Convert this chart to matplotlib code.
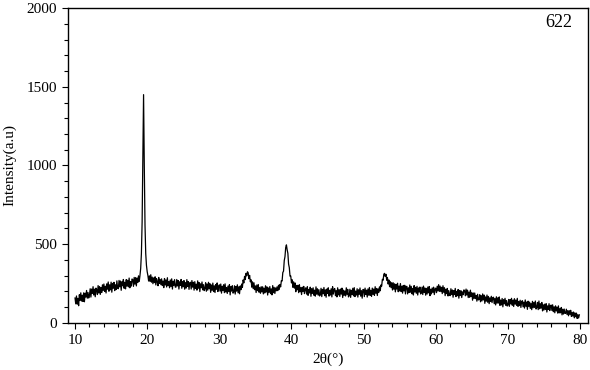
import matplotlib.pyplot as plt
import numpy as np

plt.rcParams['font.family'] = ['Liberation Serif', 'DejaVu Serif']

# intensity, 0.1 deg steps, 20 points per row (2 deg)
intensity = [
    157, 120, 170, 118, 155, 108, 178, 141, 190, 138, 175, 135, 190, 133, 188, 163, 205, 156, 192, 157,  # 10
    175, 216, 163, 214, 187, 229, 176, 213, 165, 220, 208, 179, 236, 189, 230, 180, 223, 192, 241, 205,  # 12
    246, 199, 232, 189, 247, 213, 259, 200, 241, 209, 258, 194, 250, 219, 257, 204, 241, 211, 266, 220,  # 14
    216, 269, 228, 265, 206, 260, 235, 275, 219, 257, 215, 274, 232, 270, 228, 284, 222, 261, 233, 278,  # 16
    274, 231, 288, 245, 287, 234, 284, 256, 298, 262, 300, 345, 440, 640, 1050, 1450, 1000, 620, 440, 365,  # 18
    325, 300, 265, 298, 262, 305, 258, 290, 248, 285, 255, 292, 240, 280, 262, 235, 288, 250, 275, 242,  # 20
    279, 236, 265, 223, 281, 240, 272, 227, 286, 236, 261, 222, 272, 230, 279, 214, 264, 238, 274, 226,  # 22
    227, 275, 234, 268, 214, 260, 237, 275, 219, 262, 229, 268, 213, 255, 220, 274, 231, 261, 212, 254,  # 24
    257, 214, 268, 226, 257, 207, 261, 218, 245, 207, 266, 219, 255, 198, 247, 222, 259, 209, 242, 204,  # 26
    217, 254, 200, 246, 207, 257, 216, 248, 193, 240, 206, 252, 198, 235, 192, 242, 213, 253, 198, 230,  # 28
    241, 201, 246, 188, 232, 205, 241, 191, 247, 195, 224, 186, 233, 198, 242, 177, 229, 201, 235, 188,  # 30
    195, 235, 182, 230, 201, 241, 190, 228, 184, 234, 210, 246, 225, 272, 253, 295, 274, 314, 298, 324,  # 32
    317, 280, 301, 260, 273, 226, 260, 216, 254, 210, 234, 192, 240, 204, 243, 194, 223, 187, 229, 196,  # 34
    228, 183, 219, 189, 235, 196, 228, 176, 221, 193, 230, 185, 215, 177, 236, 191, 225, 186, 221, 203,  # 36
    228, 204, 238, 211, 243, 228, 268, 265, 319, 328, 395, 420, 478, 495, 464, 442, 373, 350, 296, 297,  # 38
    253, 273, 225, 260, 220, 253, 197, 237, 210, 238, 191, 242, 197, 222, 179, 226, 199, 231, 185, 214,  # 40
    222, 182, 230, 174, 211, 189, 226, 168, 216, 186, 222, 175, 207, 169, 228, 181, 216, 175, 210, 170,  # 42
    179, 219, 166, 212, 184, 224, 172, 209, 162, 214, 186, 222, 169, 206, 176, 216, 164, 229, 182, 212,  # 44
    217, 172, 204, 164, 222, 177, 210, 167, 214, 182, 220, 160, 207, 174, 202, 170, 222, 180, 212, 164,  # 46
    173, 213, 161, 206, 179, 219, 171, 223, 166, 201, 176, 216, 163, 209, 181, 221, 169, 203, 156, 211,  # 48
    211, 166, 220, 180, 207, 163, 215, 175, 224, 174, 206, 167, 220, 180, 214, 174, 229, 187, 218, 173,  # 50
    215, 193, 228, 203, 240, 232, 276, 270, 308, 314, 294, 308, 270, 288, 246, 272, 229, 261, 223, 254,  # 52
    208, 254, 213, 247, 196, 243, 214, 251, 197, 233, 202, 249, 198, 232, 188, 237, 202, 238, 183, 230,  # 54
    231, 183, 222, 192, 240, 194, 231, 184, 218, 176, 236, 195, 225, 187, 231, 176, 221, 195, 227, 183,  # 56
    189, 226, 179, 233, 193, 221, 175, 218, 182, 227, 190, 230, 172, 213, 183, 221, 193, 226, 179, 215,  # 58
    220, 191, 232, 202, 242, 199, 233, 198, 225, 185, 235, 194, 222, 172, 213, 185, 218, 170, 204, 175,  # 60
    172, 216, 179, 208, 162, 204, 179, 218, 166, 199, 172, 211, 156, 205, 173, 203, 160, 196, 178, 209,  # 62
    203, 171, 214, 176, 207, 160, 195, 161, 207, 167, 190, 143, 189, 154, 189, 153, 173, 137, 181, 145,  # 64
    147, 178, 133, 172, 138, 183, 145, 176, 123, 164, 137, 176, 130, 167, 121, 158, 135, 168, 128, 160,  # 66
    162, 121, 154, 113, 165, 124, 158, 125, 164, 110, 144, 113, 154, 101, 146, 120, 155, 111, 141, 106,  # 68
    113, 148, 104, 147, 120, 155, 111, 143, 103, 152, 118, 144, 110, 155, 104, 135, 109, 143, 97, 133,   # 70
    140, 101, 131, 93, 145, 105, 131, 85, 137, 104, 131, 91, 122, 83, 136, 95, 129, 97, 138, 87,        # 72
    97, 129, 83, 138, 89, 121, 93, 129, 75, 114, 81, 118, 84, 121, 68, 107, 85, 121, 77, 109,           # 74
    112, 78, 114, 70, 101, 63, 107, 75, 99, 61, 107, 62, 89, 63, 97, 50, 86, 55, 87, 59,                # 76
    60, 86, 52, 77, 44, 77, 53, 79, 40, 66, 42, 68, 31, 62, 38, 61, 27, 51, 30, 50,                     # 78
]
two_theta = 10.0 + 0.1 * np.arange(len(intensity))

fig = plt.figure(figsize=(5.9, 3.7), dpi=100)
ax = fig.add_axes([0.1153, 0.1278, 0.8813, 0.8502])

ax.plot(two_theta, intensity, color='black', lw=0.9)

ax.set_xlim(9.03, 81.1)
ax.set_ylim(0, 2000)
ax.set_xticks([10, 20, 30, 40, 50, 60, 70, 80])
ax.set_xticks(np.arange(12, 80, 2), minor=True)
ax.set_yticks([0, 500, 1000, 1500, 2000])
ax.set_yticks(np.arange(100, 2000, 100), minor=True)
ax.tick_params(which='major', length=4.5, width=0.8, labelsize=11, direction='out')
ax.tick_params(which='minor', length=3, width=0.8, direction='out')
for s in ax.spines.values():
    s.set_linewidth(1.0)

ax.set_xlabel('2θ(°)', fontsize=11, labelpad=4)
ax.set_ylabel('Intensity(a.u)', fontsize=11, labelpad=7)
ax.text(0.9445, 0.955, '622', transform=ax.transAxes, fontsize=13,
        ha='center', va='center')

fig.savefig('out.png')
